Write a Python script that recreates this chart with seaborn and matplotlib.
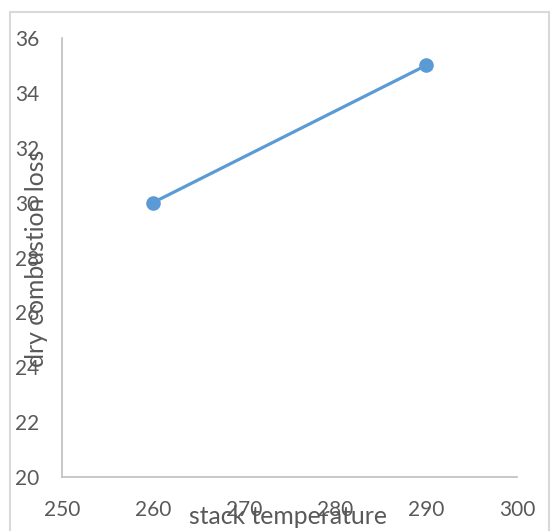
import matplotlib
matplotlib.use("Agg")
import matplotlib.pyplot as plt
import seaborn as sns
import pandas as pd
from matplotlib.lines import Line2D

# Data
stack_temperature = [260, 290]
dry_combustion_loss = [30, 35]
x_ticks = [250, 260, 270, 280, 290, 300]
y_ticks = [20, 22, 24, 26, 28, 30, 32, 34, 36]

sns.set_theme(style="white")
plt.rcParams["font.family"] = ["Lato", "DejaVu Sans"]

W, H = 551, 531
fig = plt.figure(figsize=(W / 100, H / 100), dpi=100)
ax = fig.add_axes([62 / W, 1 - 477 / H, (517 - 62) / W, (477 - 38) / H])

df = pd.DataFrame({"stack temperature": stack_temperature,
                   "dry combustion loss": dry_combustion_loss})
sns.lineplot(data=df, x="stack temperature", y="dry combustion loss", ax=ax,
             color="#5B9BD5", linewidth=2.3, marker="o", markersize=10.5,
             markeredgewidth=0, markeredgecolor="#5B9BD5")

ax.set_xlim(250, 300)
ax.set_ylim(20, 36)
ax.set_xticks(x_ticks)
ax.set_yticks(y_ticks)
ax.tick_params(axis="both", length=0, labelsize=15, colors="#595959")
ax.tick_params(axis="x", pad=16.5)
ax.tick_params(axis="y", pad=16.5)
for side in ["top", "right"]:
    ax.spines[side].set_visible(False)
for side in ["left", "bottom"]:
    ax.spines[side].set_color("#BFBFBF")
    ax.spines[side].set_linewidth(1.2)
ax.set_xlabel("")
ax.set_ylabel("")

# axis titles placed over the tick labels
fig.text(288 / W, 1 - 516 / H, "stack temperature", ha="center", va="center",
         fontsize=17.8, color="#595959")
fig.text(37 / W, 1 - 258 / H, "dry combustion loss", ha="center", va="center",
         rotation=90, fontsize=17.8, color="#595959")

# chart frame
frame_col = "#D9D9D9"
fig.add_artist(Line2D([10 / W, 10 / W], [0, 1 - 12 / H], transform=fig.transFigure,
                      color=frame_col, linewidth=1.5))
fig.add_artist(Line2D([10 / W, 549 / W], [1 - 12 / H, 1 - 12 / H], transform=fig.transFigure,
                      color=frame_col, linewidth=1.5))
fig.add_artist(Line2D([549 / W, 549 / W], [0, 1 - 12 / H], transform=fig.transFigure,
                      color=frame_col, linewidth=1.5))

fig.savefig("out.png", dpi=100, facecolor="white")
